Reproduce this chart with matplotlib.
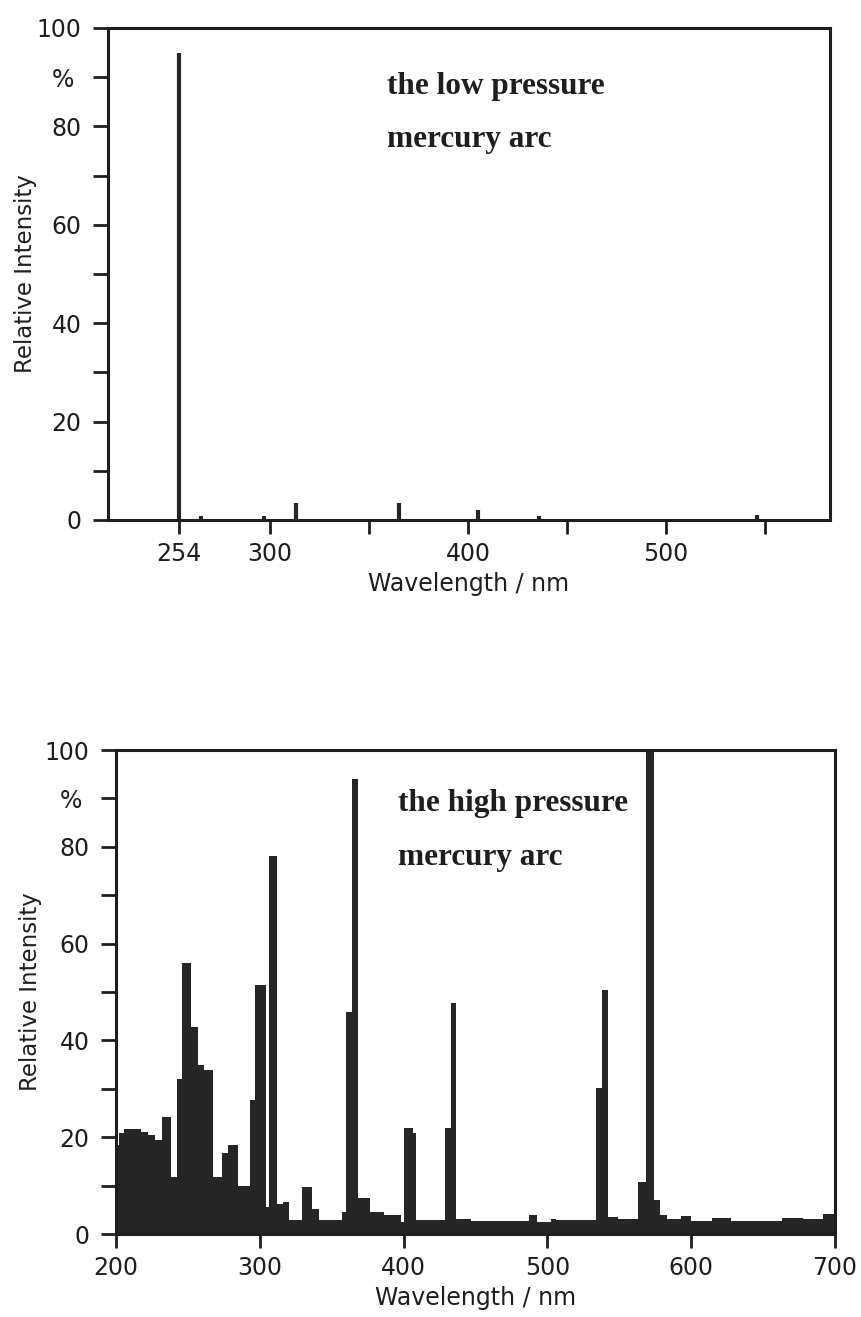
import numpy as np
import matplotlib
matplotlib.use('Agg')
import matplotlib.pyplot as plt

OUT_FILE = 'out.png'
INK = '#1e1e1e'
BAR = '#262626'

# low pressure lamp: discrete emission lines (nm, % relative intensity)
LP_LINES_NM = [254, 265, 297, 313, 365, 405, 436, 546]
LP_LINES_INT = [95, 0.8, 0.8, 3.5, 3.5, 2.0, 0.8, 1.0]
LP_TICKS = [254, 300, 350, 400, 450, 500, 550]
LP_TICK_LABELS = ['254', '300', '', '400', '', '500', '']

# high pressure lamp: binned spectrum, bin edges (nm) and heights (%)
HP_EDGES = [200.0, 202.4, 205.9, 217.7, 222.5, 227.2, 231.9, 238.5, 242.6, 246.0,
            252.0, 256.7, 261.5, 267.4, 273.8, 278.0, 285.1, 293.4, 296.9, 304.5,
            306.2, 311.9, 316.0, 320.5, 329.7, 336.5, 341.0, 357.0, 360.0, 364.0,
            368.0, 376.4, 386.6, 398.0, 400.0, 406.3, 408.9, 429.0, 433.0, 436.5,
            447.0, 487.5, 493.0, 502.7, 506.1, 534.0, 537.8, 542.5, 548.8, 562.9,
            568.6, 574.3, 578.6, 583.0, 593.0, 600.0, 614.4, 627.5, 663.0, 677.5,
            692.0, 700.0]
HP_HEIGHTS = [18.4, 20.8, 21.8, 21.1, 20.4, 19.4, 24.1, 11.7, 32.1, 55.9,
              42.8, 34.9, 33.8, 11.8, 16.7, 18.4, 9.9, 27.7, 51.4, 5.6,
              78.2, 6.3, 6.6, 2.9, 9.8, 5.1, 2.8, 4.6, 45.9, 94.1,
              7.4, 4.6, 3.9, 2.5, 21.9, 20.8, 2.9, 21.9, 47.7, 3.2,
              2.7, 3.9, 2.5, 3.2, 2.8, 30.1, 50.4, 3.6, 3.1, 10.8,
              100.0, 7.0, 3.9, 3.2, 3.7, 2.7, 3.4, 2.7, 3.4, 3.1,
              4.1]
HP_TICKS = [200, 300, 400, 500, 600, 700]

Y_TICKS = list(range(0, 101, 10))
Y_TICK_LABELS = ['0', '', '20', '', '40', '', '60', '', '80', '% ', '100']

TICK_FONT = 17
LABEL_FONT = 16.5
NOTE_FONT = 22.5


def style_axes(ax, ylabel_pad):
    for s in ax.spines.values():
        s.set_linewidth(2.2)
        s.set_color(INK)
    ax.set_ylim(0, 100)
    ax.set_yticks(Y_TICKS)
    ax.set_yticklabels(Y_TICK_LABELS)
    ax.tick_params(direction='out', width=2.0, color=INK, labelcolor=INK,
                   labelsize=TICK_FONT)
    ax.tick_params(axis='y', length=11, pad=8)
    ax.tick_params(axis='x', length=10, pad=6)
    ax.set_ylabel('Relative Intensity', fontsize=LABEL_FONT, color=INK,
                  labelpad=ylabel_pad)
    ax.set_xlabel('Wavelength / nm', fontsize=LABEL_FONT + 0.5, color=INK, labelpad=4)


def add_note(ax, x, y, lines, step):
    for i, t in enumerate(lines):
        ax.text(x, y - i * step, t, fontsize=NOTE_FONT, fontweight='bold',
                family='Liberation Serif', color=INK, va='center', ha='left')


fig = plt.figure(figsize=(8.61, 13.17), dpi=100)

# low pressure arc
ax1 = fig.add_axes([0.1254, 0.6052, 0.8386, 0.3736])
ax1.vlines(LP_LINES_NM, 0, LP_LINES_INT, color=BAR, linewidth=3.0)
ax1.set_xlim(218, 583)
ax1.set_xticks(LP_TICKS)
ax1.set_xticklabels(LP_TICK_LABELS)
style_axes(ax1, 0)
add_note(ax1, 359, 88.0, ['the low pressure', 'mercury arc'], 10.7)

# high pressure arc
ax2 = fig.add_axes([0.1347, 0.063, 0.835, 0.3675])
ax2.stairs(HP_HEIGHTS, HP_EDGES, fill=True, color=BAR, linewidth=0)
ax2.set_xlim(200, 700)
ax2.set_xticks(HP_TICKS)
style_axes(ax2, 2)
add_note(ax2, 396, 89.0, ['the high pressure', 'mercury arc'], 11.3)

fig.savefig(OUT_FILE, dpi=100)
